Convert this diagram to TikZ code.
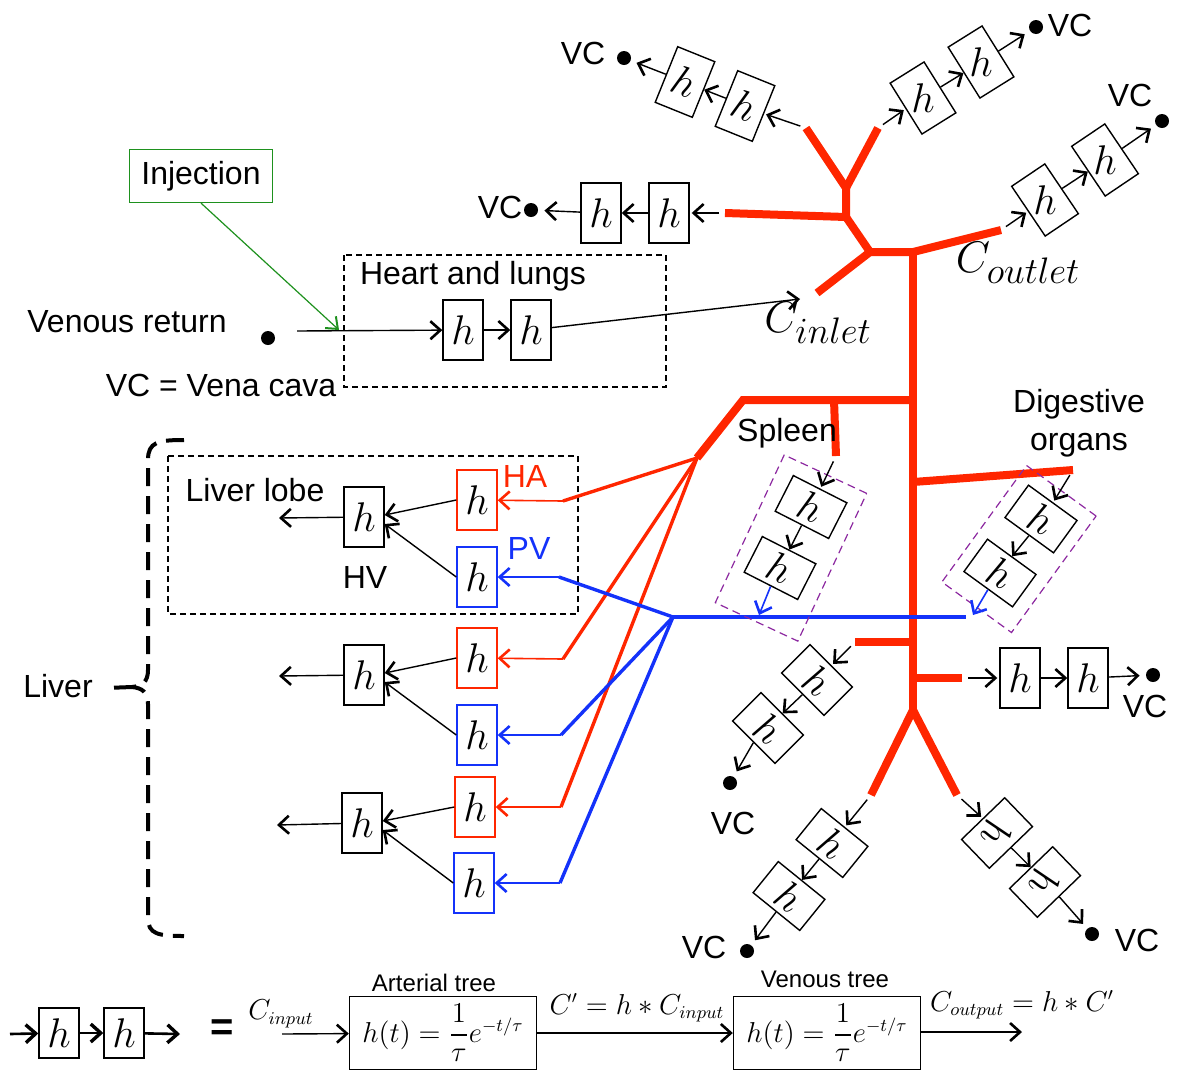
\documentclass[tikz,border=0pt]{standalone}
\usepackage{amsmath,amssymb}
\usepackage{graphicx}
\usepackage[no-math]{fontspec}
\newfontfamily\arialfont{Liberation Sans}
\usetikzlibrary{arrows.meta,calc}

\definecolor{artred}{RGB}{255,38,0}
\definecolor{pvblue}{RGB}{20,50,250}
\definecolor{injgreen}{RGB}{30,145,30}
\definecolor{lobepurple}{RGB}{140,40,160}
\newcommand{\hrot}[1]{\rotatebox{#1}{$h$}}

\tikzset{
  lab/.style={font=\arialfont\fontsize{16}{19}\selectfont, inner sep=1pt},
  smalllab/.style={font=\arialfont\fontsize{12}{14}\selectfont, inner sep=1pt},
  mlab/.style={font=\fontsize{13.5}{16}\selectfont, inner sep=1pt},
  clab/.style={font=\fontsize{24.88}{28}\selectfont, inner sep=1pt, scale=0.89},
  hb/.style={draw, line width=0.7pt, minimum width=20pt, minimum height=30pt, inner sep=0pt, font=\fontsize{20}{24}\selectfont},
  hbA/.style={hb, draw=artred},
  hbV/.style={hb, draw=pvblue},
  ftbox/.style={draw, line width=0.7pt, minimum width=93.5pt, minimum height=36.5pt, inner sep=0pt, font=\fontsize{13.5}{16}\selectfont},
  vcdot/.style={circle, fill, inner sep=0pt, minimum size=7pt},
  hflow/.style={-{Straight Barb[length=5pt,width=9pt,line width=1.3pt]}, line width=0.7pt},
  boldflow/.style={-{Straight Barb[length=5pt,width=9pt,line width=1.7pt]}, line width=1.3pt},
  tap/.style={hflow, shorten <=3pt, shorten >=1pt},
  artery/.style={artred, line width=4pt},
  lobeA/.style={artred, line width=1.7pt},
  lobeV/.style={pvblue, line width=1.7pt},
  feedA/.style={artred, -{Straight Barb[length=5pt,width=9pt,line width=1.3pt]}, line width=0.8pt},
  feedV/.style={pvblue, -{Straight Barb[length=5pt,width=9pt,line width=1.3pt]}, line width=0.8pt},
  organbox/.style={draw=lobepurple, dash pattern=on 4pt off 2.5pt, line width=0.6pt, inner sep=0pt},
  liverbrace/.style={line width=2pt, dash pattern=on 9pt off 5pt},
}

\begin{document}
\begin{tikzpicture}[x=0.5pt,y=-0.5pt]
\useasboundingbox(0,0)rectangle(1177,1072);

% artery tree
\coordinate(brTL)at(806,128);
\coordinate(brTR)at(878,128);
\coordinate(yTop)at(846,188);
\coordinate(yMid)at(846,217);
\coordinate(brL)at(725,213);
\coordinate(hubL)at(870,252);
\coordinate(hub)at(913,252);
\coordinate(brOut)at(1001,230);
\coordinate(brIn)at(817,293);
\coordinate(tLiv)at(913,400);
\coordinate(kneeLiv)at(743,400);
\coordinate(liv)at(697,458);
\coordinate(tSpl)at(834,400);
\coordinate(splEnd)at(836,456);
\coordinate(tDig)at(913,482);
\coordinate(digEnd)at(1073,470);
\coordinate(tLL)at(913,642);
\coordinate(llEnd)at(855,642);
\coordinate(tRS)at(913,678);
\coordinate(rsEnd)at(962,678);
\coordinate(hubB)at(913,710);
\coordinate(blEnd)at(871,795);
\coordinate(brEnd)at(957,795);
\path[draw,artery](brTL)--(yTop)--(yMid);
\path[draw,artery](brTR)--(yTop);
\path[draw,artery](brL)--(yMid)--(hubL)--(hub)--(brOut);
\path[draw,artery](hubL)--(brIn);
\path[draw,artery](hub)--(hubB);
\path[draw,artery](hubB)--(blEnd);
\path[draw,artery](hubB)--(brEnd);
\path[draw,artery](tLiv)--(kneeLiv)--(liv);
\path[draw,artery](tSpl)--(splEnd);
\path[draw,artery](tDig)--(digEnd);
\path[draw,artery](tLL)--(llEnd);
\path[draw,artery](tRS)--(rsEnd);
\node[clab](cOutlet)at(1018,263){$C_{outlet}$};
\node[clab](cInlet)at(818,323){$C_{inlet}$};

% heart and lungs
\path[draw,dash pattern=on 3pt off 2pt,line width=0.6pt](344,255)rectangle(666,387);
\node[lab](hlLab)at(473,276){Heart and lungs};
\node[lab](vrLab)at(127,322){Venous return};
\node[lab](vcDef)at(221,385){VC = Vena cava};
\node[vcdot](vrDot)at(268,338){};
\coordinate(vrIn)at(297,331);
\coordinate(inletTip)at(800,299);
\node[hb](hl1)at(463,330){$h$};
\node[hb](hl2)at(531,330){$h$};
\path[draw,hflow](vrIn)to(hl1);
\path[draw,hflow](hl1)to(hl2);
\path[draw,hflow](hl2)to(inletTip);
\node[lab,draw=injgreen,line width=0.6pt,minimum width=71.5pt,minimum height=26.5pt](inj)at(201,176){Injection};
\coordinate(injTip)at(339,330);
\path[draw,injgreen,-{Straight Barb[length=5pt,width=8pt,line width=1pt]},line width=0.6pt](inj.south)to(injTip);

% top left chain
\node[hb,rotate=-22](tl2)at(745,106){$h$};
\node[hb,rotate=-22](tl1)at(685,82){$h$};
\node[vcdot](vcTL)at(624,58){};
\node[lab](vcTLlab)at(583,53){VC};
\path[draw,tap](brTL)to(tl2.east);
\path[draw,hflow](tl2.west)to(tl1.east);
\path[draw,hflow,shorten >=3pt](tl1.west)to(vcTL);

% left chain
\node[hb](lh2)at(669,213){$h$};
\node[hb](lh1)at(601,213){$h$};
\node[vcdot](vcLH)at(531,210){};
\node[lab](vcLHlab)at(500,207){VC};
\path[draw,tap](brL)to(lh2);
\path[draw,hflow](lh2)to(lh1);
\path[draw,hflow,shorten >=3pt](lh1)to(vcLH);

% top right chain
\node[hb,rotate=32](tr1)at(923,98){\hrot{-32}};
\node[hb,rotate=32](tr2)at(981,62){\hrot{-32}};
\node[vcdot](vcTR)at(1036,27){};
\node[lab](vcTRlab)at(1070,25){VC};
\path[draw,tap](brTR)to(tr1.west);
\path[draw,hflow](tr1.east)to(tr2.west);
\path[draw,hflow,shorten >=3pt](tr2.east)to(vcTR);

% outlet chain
\node[hb,rotate=34](ro1)at(1045,200){\hrot{-34}};
\node[hb,rotate=34](ro2)at(1105,160){\hrot{-34}};
\node[vcdot](vcRO)at(1162,121){};
\node[lab](vcROlab)at(1130,95){VC};
\path[draw,tap](brOut)to(ro1.west);
\path[draw,hflow](ro1.east)to(ro2.west);
\path[draw,hflow,shorten >=3pt](ro2.east)to(vcRO);

% portal vein
\coordinate(pvHub)at(673,617);
\coordinate(pvEnd)at(966,617);
\path[draw,lobeV](pvHub)--(pvEnd);

% spleen
\node[lab](splLab)at(787,433){Spleen};
\node[organbox,rotate=-25,minimum width=45.5pt,minimum height=81.5pt](splBox)at(791,548){};
\node[hb,rotate=-117](sp1)at(811,507){\hrot{95}};
\node[hb,rotate=-117](sp2)at(780,568){\hrot{95}};
\coordinate(splTip)at(759,615);
\path[draw,tap](splEnd)to(sp1.west);
\path[draw,hflow](sp1.east)to(sp2.west);
\path[draw,feedV](sp2.east)to(splTip);

% digestive organs
\node[lab,align=center](digLab)at(1079,423){Digestive\\organs};
\node[organbox,rotate=-36,minimum width=43pt,minimum height=72pt](digBox)at(1019,549){};
\node[hb,rotate=-126](dg1)at(1041,519){\hrot{100}};
\node[hb,rotate=-126](dg2)at(1000,573){\hrot{100}};
\coordinate(digTip)at(973,615);
\path[draw,tap](digEnd)to(dg1.west);
\path[draw,hflow](dg1.east)to(dg2.west);
\path[draw,feedV](dg2.east)to(digTip);

% lower chains
\node[hb,rotate=-135](ll1)at(817,680){\hrot{100}};
\node[hb,rotate=-135](ll2)at(768,728){\hrot{100}};
\node[vcdot](vcLL)at(730,783){};
\node[lab](vcLLlab)at(733,823){VC};
\path[draw,tap](llEnd)to(ll1.west);
\path[draw,hflow](ll1.east)to(ll2.west);
\path[draw,hflow,shorten >=3pt](ll2.east)to(vcLL);

\node[hb](rs1)at(1020,678){$h$};
\node[hb](rs2)at(1088,678){$h$};
\node[vcdot](vcRS)at(1153,675){};
\node[lab](vcRSlab)at(1145,706){VC};
\path[draw,tap](rsEnd)to(rs1);
\path[draw,hflow](rs1)to(rs2);
\path[draw,hflow,shorten >=3pt](rs2)to(vcRS);

\node[hb,rotate=-129](bl1)at(832,843){\hrot{94}};
\node[hb,rotate=-129](bl2)at(789,896){\hrot{94}};
\node[vcdot](vcBL)at(747,951){};
\node[lab](vcBLlab)at(704,947){VC};
\path[draw,tap](blEnd)to(bl1.west);
\path[draw,hflow](bl1.east)to(bl2.west);
\path[draw,hflow,shorten >=3pt](bl2.east)to(vcBL);

\node[hb,rotate=-46](br1)at(997,833){\hrot{-64}};
\node[hb,rotate=-46](br2)at(1045,882){\hrot{-64}};
\node[vcdot](vcBR)at(1092,934){};
\node[lab](vcBRlab)at(1137,940){VC};
\path[draw,tap](brEnd)to(br1.west);
\path[draw,hflow](br1.east)to(br2.west);
\path[draw,hflow,shorten >=3pt](br2.east)to(vcBR);

% liver
\path[draw,dash pattern=on 3pt off 2pt,line width=0.6pt](168,456)rectangle(578,614);
\node[lab](lobeLab)at(255,490){Liver lobe};
\node[lab,text=artred](haLab)at(525,476){HA};
\node[lab,text=pvblue](pvLab)at(529,548){PV};
\node[lab](hvLab)at(365,577){HV};
\node[lab](liverLab)at(58,686){Liver};
\path[draw,liverbrace](184,440)..controls(158,440)and(148,442)..(148,460)--(148,670)..controls(148,682)and(142,686)..(132,687)..controls(142,688)and(148,692)..(148,704)--(148,918)..controls(148,934)and(158,936)..(184,936);
\path[draw,liverbrace](132,687)--(106,688);

\node[hbA](ha1)at(477,500){$h$};
\node[hbV](pv1)at(477,577){$h$};
\node[hb](hv1)at(364,517){$h$};
\node[hbA](ha2)at(477,658){$h$};
\node[hbV](pv2)at(477,735){$h$};
\node[hb](hv2)at(364,675){$h$};
\node[hbA](ha3)at(475,807){$h$};
\node[hbV](pv3)at(474,883){$h$};
\node[hb](hv3)at(362,823){$h$};
\coordinate(hvOut1)at(279,518);
\coordinate(hvOut2)at(279,676);
\coordinate(hvOut3)at(277,825);
\coordinate(haIn1)at(563,501);
\coordinate(haIn2)at(563,659);
\coordinate(haIn3)at(561,807);
\coordinate(pvIn1)at(559,577);
\coordinate(pvIn2)at(561,735);
\coordinate(pvIn3)at(560,883);
\path[draw,hflow](hv1)to(hvOut1);
\path[draw,hflow](hv2)to(hvOut2);
\path[draw,hflow](hv3)to(hvOut3);
\path[draw,hflow](ha1.west)to([yshift=1pt]hv1.east);
\path[draw,hflow](ha2.west)to([yshift=1pt]hv2.east);
\path[draw,hflow](ha3.west)to([yshift=1pt]hv3.east);
\path[draw,hflow](pv1.west)to([yshift=-3.5pt]hv1.east);
\path[draw,hflow](pv2.west)to([yshift=-3.5pt]hv2.east);
\path[draw,hflow](pv3.west)to([yshift=-3.5pt]hv3.east);
\path[draw,feedA](haIn1)to(ha1);
\path[draw,feedA](haIn2)to(ha2);
\path[draw,feedA](haIn3)to(ha3);
\path[draw,feedV](pvIn1)to(pv1);
\path[draw,feedV](pvIn2)to(pv2);
\path[draw,feedV](pvIn3)to(pv3);
\path[draw,lobeA](haIn1)--(liv);
\path[draw,lobeA](haIn2)--(liv);
\path[draw,lobeA](haIn3)--(liv);
\path[draw,lobeV](pvIn1)--(pvHub);
\path[draw,lobeV](pvIn2)--(pvHub);
\path[draw,lobeV](pvIn3)--(pvHub);

% legend
\coordinate(eqIn)at(10,1034);
\coordinate(eqOut)at(180,1034);
\node[hb,minimum height=25pt](eq1)at(59,1033){$h$};
\node[hb,minimum height=25pt](eq2)at(124,1033){$h$};
\path[draw,boldflow](eqIn)to(eq1);
\path[draw,boldflow](eq1)to(eq2);
\path[draw,boldflow](eq2)to(eqOut);
\node[font=\arialfont\bfseries\fontsize{20}{24}\selectfont](eqSign)at(222,1030){=};
\node[ftbox](artBox)at(443,1033){$h(t)=\dfrac{1}{\tau}e^{-t/\tau}$};
\node[ftbox](venBox)at(827,1033){$h(t)=\dfrac{1}{\tau}e^{-t/\tau}$};
\node[smalllab](artLab)at(434,983){Arterial tree};
\node[smalllab](venLab)at(825,979){Venous tree};
\coordinate(cIn)at(282,1034);
\coordinate(cOut)at(1022,1032);
\node[mlab](cInLab)at(281,1014){$C_{input}$};
\node[mlab](cMidLab)at(637,1008){$C'=h*C_{input}$};
\node[mlab](cOutLab)at(1022,1005){$C_{output}=h*C'$};
\path[draw,hflow](cIn)to(artBox);
\path[draw,hflow](artBox)to(venBox);
\path[draw,hflow](venBox.east|-cOut)to(cOut);
\end{tikzpicture}
\end{document}
